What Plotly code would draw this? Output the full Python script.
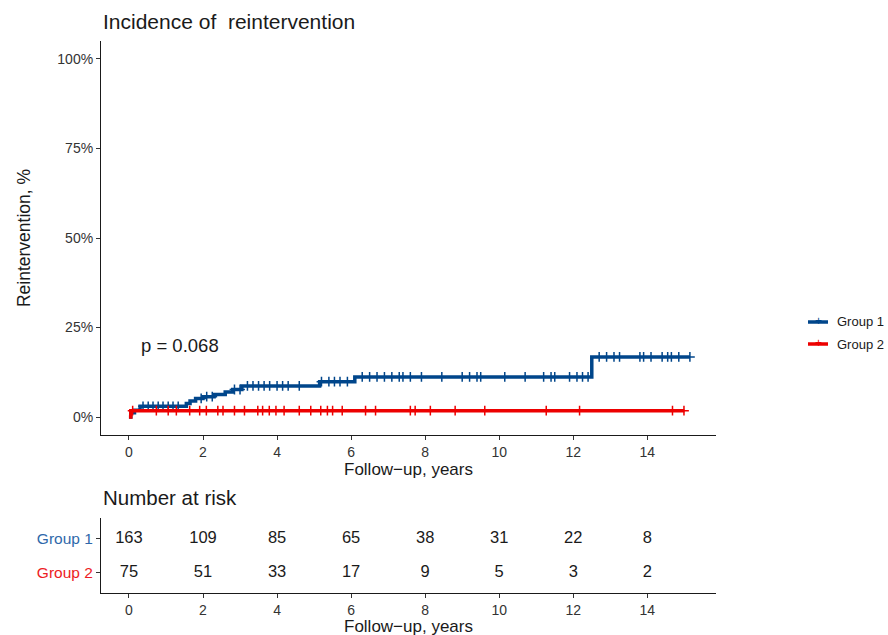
import numpy as np
import plotly.graph_objects as go
from plotly.subplots import make_subplots

# Cumulative incidence of reintervention (step curves), in %
g1_times = [0, 0.05, 0.15, 0.3, 1.55, 1.65, 1.8, 2.0, 2.3, 2.6, 2.8, 3.05, 5.15, 6.1, 12.5, 15.15]
g1_values = [0, 1.2, 1.9, 3.0, 3.8, 4.5, 5.2, 5.7, 6.3, 7.0, 7.7, 8.7, 9.9, 11.2, 16.8, 16.8]

g2_times = [0, 0.05, 15.0]
g2_values = [0, 1.8, 1.8]

# Censoring times
g1_censor = [0.38, 0.52, 0.65, 0.79, 0.92, 1.06, 1.19, 1.33, 1.95, 2.1, 2.25, 2.85, 3.0, 3.2,
             3.35, 3.5, 3.65, 3.8, 4.0, 4.15, 4.3, 4.6, 5.2, 5.4, 5.55, 5.7, 5.9, 6.3, 6.5,
             6.7, 6.9, 7.1, 7.3, 7.4, 7.6, 7.9, 8.45, 9.0, 9.2, 9.4, 9.5, 10.15, 10.7, 11.2,
             11.4, 11.5, 11.9, 12.1, 12.25, 12.4, 12.7, 12.9, 13.1, 13.25, 13.8, 13.9, 14.1,
             14.4, 14.55, 14.65, 14.85, 15.15]
g2_censor = [0.1, 0.74, 1.06, 1.28, 1.64, 1.91, 2.09, 2.4, 2.54, 2.85, 3.12, 3.48, 3.61, 3.79,
             3.97, 4.19, 4.6, 4.91, 5.18, 5.36, 5.5, 5.76, 6.39, 6.66, 7.6, 7.73, 8.14, 8.81,
             9.61, 11.27, 12.17, 14.68, 14.99]

# Number at risk table
risk_years = [0, 2, 4, 6, 8, 10, 12, 14]
risk_g1 = [163, 109, 85, 65, 38, 31, 22, 8]
risk_g2 = [75, 51, 33, 17, 9, 5, 3, 2]

groups = ["Group 1", "Group 2"]
colors = ["#00468B", "#ED0000"]
label_colors = ["#2E68AA", "#ED1C24"]

FONT = "Liberation Sans, Arial"
INK = "#1a1a1a"
X_TITLE = "Follow\u2212up, years"


def step_value(times, values, t):
    idx = np.searchsorted(np.asarray(times), t, side="right") - 1
    return np.asarray(values)[np.clip(idx, 0, len(values) - 1)]


fig = make_subplots(rows=2, cols=1, shared_xaxes=False, vertical_spacing=0.0)

series = [(g1_times, g1_values, g1_censor), (g2_times, g2_values, g2_censor)]
for (t, v, c), name, col in zip(series, groups, colors):
    fig.add_trace(go.Scatter(
        x=t, y=v, mode="lines", line=dict(color=col, width=3.5, shape="hv"),
        name=name, showlegend=False), row=1, col=1)
    cy = step_value(t, v, np.asarray(c))
    fig.add_trace(go.Scatter(
        x=c, y=cy, mode="markers",
        marker=dict(symbol="cross-thin", size=7, line=dict(color=col, width=1.5)),
        name=name, showlegend=False), row=1, col=1)

# Number-at-risk text rows
for counts, level in ((risk_g1, 2), (risk_g2, 1)):
    fig.add_trace(go.Scatter(
        x=risk_years, y=[level] * len(risk_years), mode="text",
        text=[str(n) for n in counts],
        textfont=dict(family=FONT, size=16.5, color=INK),
        showlegend=False, hoverinfo="skip"), row=2, col=1)

W, H = 888, 635
L, R, T, B = 101, 172, 41, 42
pw, ph = W - L - R, H - T - B
main_bottom = (H - B - 435) / ph
risk_top = (H - B - 518) / ph


def py(pixel_y):
    """Paper y coordinate for a pixel row of the page."""
    return (H - B - pixel_y) / ph


def px(pixel_x):
    """Paper x coordinate for a pixel column of the page."""
    return (pixel_x - L) / pw


axis_common = dict(showline=True, linecolor=INK, linewidth=1.1, ticks="outside",
                   ticklen=4, tickcolor="#333333", showgrid=False, zeroline=False,
                   automargin=False,
                   tickfont=dict(family=FONT, size=14, color="#333333"))

xrange = [-0.755, 15.855]
fig.update_layout(
    width=W, height=H,
    margin=dict(l=L, r=R, t=T, b=B),
    plot_bgcolor="white", paper_bgcolor="white",
    font=dict(family=FONT, color=INK),
    showlegend=False,
    xaxis=dict(domain=[0, 1], range=xrange, tickvals=risk_years, anchor="y",
               title=dict(text=X_TITLE, standoff=1, font=dict(size=17, color=INK)),
               **axis_common),
    yaxis=dict(domain=[main_bottom, 1], range=[-5, 105], tickvals=[0, 25, 50, 75, 100],
               ticktext=["0%", "25%", "50%", "75%", "100%"], anchor="x",
               title=dict(text="Reintervention, %", standoff=22,
                          font=dict(size=17.5, color=INK)),
               **axis_common),
    xaxis2=dict(domain=[0, 1], range=xrange, tickvals=risk_years, anchor="y2",
                **axis_common),
    yaxis2=dict(domain=[0, risk_top], range=[0.4, 2.6], tickvals=[2, 1], anchor="x2",
                ticktext=[f"<span style='color:{label_colors[0]}'>{groups[0]}</span>",
                          f"<span style='color:{label_colors[1]}'>{groups[1]}</span>"],
                **{**axis_common, "tickfont": dict(family=FONT, size=15.5)}),
)

# Risk-table x-axis title, set just below its tick labels
fig.add_annotation(text=X_TITLE, xref="paper", yref="paper", x=0.5, y=py(626),
                   xanchor="center", yanchor="middle", showarrow=False,
                   font=dict(size=17, color=INK))

# Titles and p-value
fig.add_annotation(text="Incidence of\u00a0 reintervention", xref="paper", yref="paper",
                   x=0, y=1, xanchor="left", yanchor="bottom", yshift=6, showarrow=False,
                   font=dict(size=21, color=INK))
fig.add_annotation(text="Number at risk", xref="paper", yref="paper",
                   x=0, y=risk_top, xanchor="left", yanchor="bottom", yshift=7, showarrow=False,
                   font=dict(size=20.5, color=INK))
fig.add_annotation(text="p = 0.068", xref="x", yref="y", x=0.27, y=20,
                   xanchor="left", yanchor="middle", showarrow=False,
                   font=dict(size=18.5, color=INK))

# Legend drawn at the right of the main panel
for i, (name, col) in enumerate(zip(groups, colors)):
    ly = py(322 + 22 * i)
    fig.add_shape(type="line", xref="paper", yref="paper",
                  x0=px(808), x1=px(828), y0=ly, y1=ly,
                  line=dict(color=col, width=3.5))
    fig.add_annotation(text="+", xref="paper", yref="paper", x=px(818), y=ly,
                       showarrow=False, xanchor="center", yanchor="middle", yshift=1,
                       font=dict(size=12, color=col))
    fig.add_annotation(text=name, xref="paper", yref="paper", x=px(835), y=ly,
                       xanchor="left", yanchor="middle", showarrow=False,
                       font=dict(size=13, color=INK))

fig.write_html("out.html")
